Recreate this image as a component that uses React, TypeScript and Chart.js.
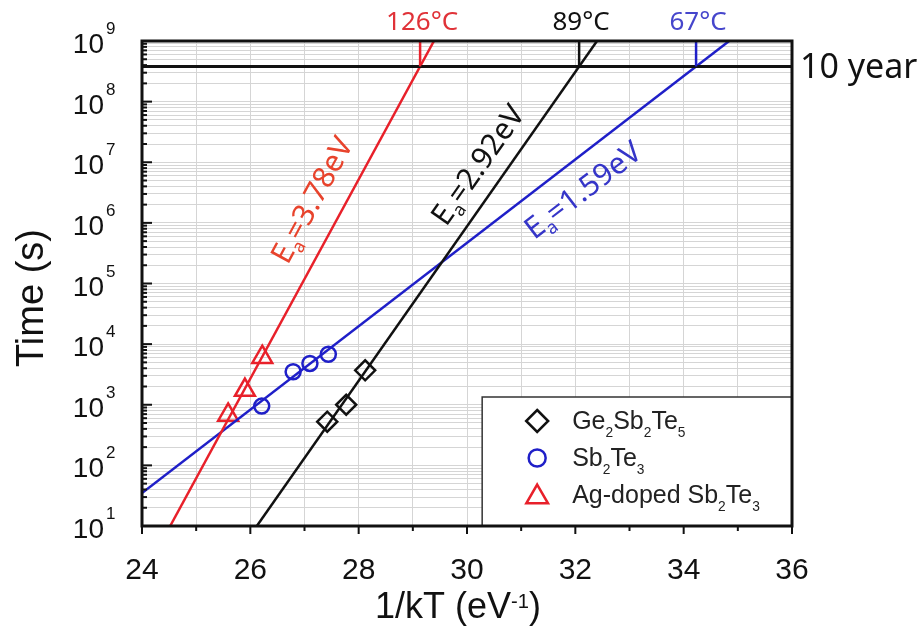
import React, { useEffect, useRef } from 'react';
import { Chart, registerables } from 'chart.js';

Chart.register(...registerables);

// ---- measured data ----
const gstX = [27.42, 27.77, 28.12];
const gstY = [525, 1000, 3700];
const sbtX = [26.21, 26.79, 27.1, 27.44];
const sbtY = [950, 3500, 4800, 6800];
const agX = [25.59, 25.9, 26.22];
const agY = [680, 1750, 6100];

// Arrhenius fit lines (end points)
const gstFitX = [26.12, 32.4];
const gstFitY = [10, 1e9];
const sbtFitX = [24, 34.84];
const sbtFitY = [35, 1e9];
const agFitX = [24.52, 29.39];
const agFitY = [10, 1e9];

const tenYear = 3.8e8;
const tenYearLabel = '10 year';
const tempLabels = ['126°C', '89°C', '67°C']; // Ag-doped, GST, Sb2Te3
const eaValues = ['3.78', '2.92', '1.59'];
// annotation anchor points (data coords) for Ea labels
const eaAnchorX = [27.14, 30.2, 32.14];
const eaAnchorY = [2.38e6, 9.0e6, 3.47e6];

const xMin = 24;
const xMax = 36;
const yMin = 10;
const yMax = 1e9;
const xTickLabels = [24, 26, 28, 30, 32, 34, 36];
const yExponents = [1, 2, 3, 4, 5, 6, 7, 8, 9];
const xTitle = '1/kT (eV';
const xTitleSup = '-1';
const yTitle = 'Time (s)';

type Part = { t: string; s?: 'sub' | 'sup' };
const legendLabels: Part[][] = [
  [{ t: 'Ge' }, { t: '2', s: 'sub' }, { t: 'Sb' }, { t: '2', s: 'sub' }, { t: 'Te' }, { t: '5', s: 'sub' }],
  [{ t: 'Sb' }, { t: '2', s: 'sub' }, { t: 'Te' }, { t: '3', s: 'sub' }],
  [{ t: 'Ag-doped Sb' }, { t: '2', s: 'sub' }, { t: 'Te' }, { t: '3', s: 'sub' }],
];

const RED = '#e8202a';
const BLUE = '#1f1fc8';
const BLACK = '#111111';
const GRID = '#d5d5d5';
const SANS = '"Liberation Sans", Arial, sans-serif';
const NOTO = '"Noto Sans", "Open Sans", sans-serif';

const yGridValues: number[] = [];
for (let e = 1; e < 9; e++) for (let m = 1; m < 10; m++) yGridValues.push(m * Math.pow(10, e));
yGridValues.push(1e9);

const pts = (xs: number[], ys: number[]) => xs.map((v, i) => ({ x: v, y: ys[i] }));

function drawRich(
  ctx: CanvasRenderingContext2D,
  parts: Part[],
  x: number,
  y: number,
  size: number,
  family: string,
  align: 'left' | 'center',
  scale = 0.6,
  subOff = 0.25,
  supOff = -0.3
) {
  const sizes = parts.map((p) => (p.s ? size * scale : size));
  let total = 0;
  const widths = parts.map((p, i) => {
    ctx.font = `${sizes[i]}px ${family}`;
    const w = ctx.measureText(p.t).width;
    total += w;
    return w;
  });
  let cx = align === 'center' ? x - total / 2 : x;
  ctx.textAlign = 'left';
  ctx.textBaseline = 'alphabetic';
  parts.forEach((p, i) => {
    ctx.font = `${sizes[i]}px ${family}`;
    const off = p.s === 'sub' ? subOff * size : p.s === 'sup' ? supOff * size : 0;
    ctx.fillText(p.t, cx, y + off);
    cx += widths[i];
  });
}

function marker(ctx: CanvasRenderingContext2D, style: string, x: number, y: number, r: number, color: string) {
  ctx.save();
  ctx.strokeStyle = color;
  ctx.lineWidth = 2.5;
  ctx.beginPath();
  if (style === 'rectRot') {
    ctx.moveTo(x, y - r);
    ctx.lineTo(x + r, y);
    ctx.lineTo(x, y + r);
    ctx.lineTo(x - r, y);
    ctx.closePath();
  } else if (style === 'circle') {
    ctx.arc(x, y, r, 0, Math.PI * 2);
  } else {
    for (let k = 0; k < 3; k++) {
      const a = (k * 2 * Math.PI) / 3;
      const px = x + Math.sin(a) * r;
      const py = y - Math.cos(a) * r;
      if (k === 0) ctx.moveTo(px, py);
      else ctx.lineTo(px, py);
    }
    ctx.closePath();
  }
  ctx.stroke();
  ctx.restore();
}

const overlay = {
  id: 'overlay',
  afterDatasetsDraw(chart: any) {
    const { ctx, chartArea: a } = chart;
    const xs = chart.scales.x;
    const ys = chart.scales.y;
    ctx.save();

    const fits = [
      { fx: agFitX, fy: agFitY, color: RED, text: '#e8432c', tcol: '#e03238' },
      { fx: gstFitX, fy: gstFitY, color: BLACK, text: BLACK, tcol: BLACK },
      { fx: sbtFitX, fy: sbtFitY, color: BLUE, text: '#3535c8', tcol: '#4646cc' },
    ];

    // 10 year line
    const yTen = ys.getPixelForValue(tenYear);
    ctx.strokeStyle = BLACK;
    ctx.lineWidth = 3;
    ctx.beginPath();
    ctx.moveTo(a.left, yTen);
    ctx.lineTo(a.right, yTen);
    ctx.stroke();

    fits.forEach((f, i) => {
      const l0 = Math.log10(f.fy[0]);
      const l1 = Math.log10(f.fy[1]);
      const cross = f.fx[0] + ((Math.log10(tenYear) - l0) * (f.fx[1] - f.fx[0])) / (l1 - l0);
      const px = xs.getPixelForValue(cross);
      ctx.strokeStyle = f.color;
      ctx.lineWidth = 2.5;
      ctx.beginPath();
      ctx.moveTo(px, yTen);
      ctx.lineTo(px, a.top);
      ctx.stroke();
      // temperature label
      ctx.fillStyle = f.tcol;
      ctx.font = `26px ${NOTO}`;
      ctx.textAlign = 'center';
      ctx.textBaseline = 'alphabetic';
      ctx.fillText(tempLabels[i], px + 2, 30);

      // Ea label along the line
      const p0x = xs.getPixelForValue(f.fx[0]);
      const p0y = ys.getPixelForValue(f.fy[0]);
      const p1x = xs.getPixelForValue(f.fx[1]);
      const p1y = ys.getPixelForValue(f.fy[1]);
      const ang = Math.atan2(p1y - p0y, p1x - p0x);
      const cx = xs.getPixelForValue(eaAnchorX[i]);
      const cy = ys.getPixelForValue(eaAnchorY[i]);
      ctx.save();
      ctx.translate(cx, cy);
      ctx.rotate(ang);
      ctx.fillStyle = f.text;
      drawRich(ctx, [{ t: 'E' }, { t: 'a', s: 'sub' }, { t: '=' + eaValues[i] + 'eV' }], 0, 10, 30, NOTO, 'center', 0.6, 0.22);
      ctx.restore();
    });

    // 10 year text
    ctx.fillStyle = BLACK;
    ctx.font = `34px ${NOTO}`;
    ctx.textAlign = 'left';
    ctx.textBaseline = 'alphabetic';
    ctx.fillText(tenYearLabel, a.right + 8, yTen + 12);

    // legend
    const lx0 = xs.getPixelForValue(30.28);
    const ly0 = a.bottom - 129;
    ctx.fillStyle = '#ffffff';
    ctx.fillRect(lx0, ly0, a.right - lx0, a.bottom - ly0);
    ctx.strokeStyle = '#333333';
    ctx.lineWidth = 1.5;
    ctx.strokeRect(lx0, ly0, a.right - lx0, a.bottom - ly0);
    const lstyles = [
      { s: 'rectRot', c: BLACK, r: 11 },
      { s: 'circle', c: BLUE, r: 8.5 },
      { s: 'triangle', c: RED, r: 12.5 },
    ];
    legendLabels.forEach((parts, i) => {
      const base = ly0 + 32 + i * 37;
      const st = lstyles[i];
      marker(ctx, st.s, lx0 + 55, base - 8 + (st.s === 'triangle' ? 2 : 0), st.r, st.c);
      ctx.fillStyle = '#222222';
      drawRich(ctx, parts, lx0 + 90, base, 25, SANS, 'left', 0.55, 0.33);
    });

    // frame
    ctx.strokeStyle = BLACK;
    ctx.lineWidth = 3;
    ctx.strokeRect(a.left, a.top, a.right - a.left, a.bottom - a.top);

    // y ticks (inside) + labels
    ctx.lineWidth = 2;
    ys.ticks.forEach((t: any) => {
      const py = ys.getPixelForValue(t.value);
      const lg = Math.log10(t.value);
      const major = Math.abs(lg - Math.round(lg)) < 1e-9;
      ctx.beginPath();
      ctx.moveTo(a.left, py);
      ctx.lineTo(a.left + (major ? 10 : 5), py);
      ctx.stroke();
    });
    ctx.fillStyle = BLACK;
    yExponents.forEach((e) => {
      const py = ys.getPixelForValue(Math.pow(10, e));
      ctx.font = `28px ${SANS}`;
      ctx.textAlign = 'right';
      ctx.textBaseline = 'alphabetic';
      ctx.fillText('10', 104, py + 12);
      ctx.font = `17px ${SANS}`;
      ctx.textAlign = 'left';
      ctx.fillText(String(e), 106, py - 7);
    });

    // x ticks (outside) + labels
    for (let v = xMin; v <= xMax; v++) {
      const px = xs.getPixelForValue(v);
      const major = v % 2 === 0;
      ctx.beginPath();
      ctx.moveTo(px, a.bottom);
      ctx.lineTo(px, a.bottom + (major ? 8 : 5));
      ctx.stroke();
    }
    ctx.font = `30px ${SANS}`;
    ctx.textAlign = 'center';
    ctx.textBaseline = 'alphabetic';
    xTickLabels.forEach((v) => {
      ctx.fillText(String(v), xs.getPixelForValue(v), 579);
    });

    // x title
    drawRich(ctx, [{ t: xTitle }, { t: xTitleSup, s: 'sup' }, { t: ')' }], 458, 618, 36, SANS, 'center', 0.56, 0.25, -0.28);

    // y title
    ctx.save();
    ctx.translate(43, 298);
    ctx.rotate(-Math.PI / 2);
    ctx.font = `38px ${SANS}`;
    ctx.textAlign = 'center';
    ctx.textBaseline = 'alphabetic';
    ctx.fillText(yTitle, 0, 0);
    ctx.restore();

    ctx.restore();
  },
};

export default function App() {
  const ref = useRef<HTMLCanvasElement>(null);
  useEffect(() => {
    const canvas = ref.current!;
    const lineDs = (xs: number[], ys: number[], color: string) => ({
      data: pts(xs, ys),
      showLine: true,
      borderColor: color,
      borderWidth: 2.5,
      pointRadius: 0,
      pointHoverRadius: 0,
      fill: false,
    });
    const pointDs = (xs: number[], ys: number[], color: string, style: string, r: number) => ({
      data: pts(xs, ys),
      showLine: false,
      pointStyle: style,
      pointRadius: r,
      pointHoverRadius: r,
      borderColor: color,
      backgroundColor: 'rgba(0,0,0,0)',
      pointBorderColor: color,
      pointBackgroundColor: 'rgba(0,0,0,0)',
      borderWidth: 2.5,
      pointBorderWidth: 2.5,
    });
    const chart = new Chart(canvas, {
      type: 'scatter',
      data: {
        datasets: [
          lineDs(agFitX, agFitY, RED),
          lineDs(gstFitX, gstFitY, BLACK),
          lineDs(sbtFitX, sbtFitY, BLUE),
          pointDs(gstX, gstY, BLACK, 'rectRot', 10),
          pointDs(sbtX, sbtY, BLUE, 'circle', 7.5),
          pointDs(agX, agY, RED, 'triangle', 11.5),
        ] as any,
      },
      options: {
        animation: false,
        responsive: false,
        devicePixelRatio: 1,
        layout: { padding: { top: 41, right: 130, left: 0, bottom: 0 } },
        plugins: { legend: { display: false }, tooltip: { enabled: false } },
        events: [],
        scales: {
          x: {
            type: 'linear',
            min: xMin,
            max: xMax,
            ticks: { display: false, stepSize: 1 },
            grid: { color: GRID, lineWidth: 1, drawTicks: false },
            border: { display: false },
            afterFit: (s: any) => {
              s.height = 106;
            },
          },
          y: {
            type: 'logarithmic',
            min: yMin,
            max: yMax,
            ticks: { display: false },
            grid: { color: GRID, lineWidth: 1, drawTicks: false },
            border: { display: false },
            afterBuildTicks: (s: any) => {
              s.ticks = yGridValues.map((v) => ({ value: v }));
            },
            afterFit: (s: any) => {
              s.width = 142;
            },
          },
        },
      } as any,
      plugins: [overlay],
    });
    return () => chart.destroy();
  }, []);
  return (
    <div style={{ position: 'absolute', left: 0, top: 0, width: 922, height: 632, background: '#ffffff' }}>
      <canvas ref={ref} width={922} height={632} style={{ width: 922, height: 632, display: 'block' }} />
    </div>
  );
}
